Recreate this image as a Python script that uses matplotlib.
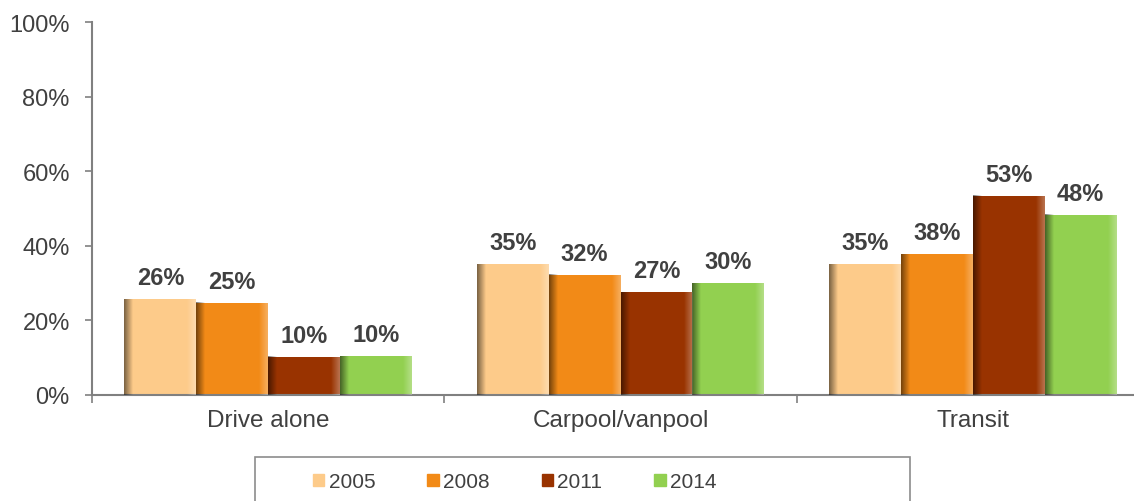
import numpy as np
import matplotlib
matplotlib.use('Agg')
import matplotlib.pyplot as plt
from matplotlib.patches import Rectangle, Patch

plt.rcParams['font.family'] = ['Liberation Sans', 'DejaVu Sans']

# --- dados ---
categorias = ['Drive alone', 'Carpool/vanpool', 'Transit']
anos = ['2005', '2008', '2011', '2014']
v2005 = [25.7, 35.1, 35.1]
v2008 = [24.7, 32.2, 37.8]
v2011 = [10.2, 27.6, 53.4]
v2014 = [10.4, 30.0, 48.3]
rotulos = [['26%', '35%', '35%'],
           ['25%', '32%', '38%'],
           ['10%', '27%', '53%'],
           ['10%', '30%', '48%']]
cores = ['#FDCB8A', '#F28A17', '#993300', '#92D050']

series = [v2005, v2008, v2011, v2014]
texto = '#404040'
eixo = '#808080'

fig = plt.figure(figsize=(11.34, 5.02), dpi=100)
ax = fig.add_axes([92 / 1134, 106 / 502, 1057 / 1134, 373 / 502])

x = np.arange(len(categorias))
w = 0.204

# gradiente das bordas (sombra esquerda, brilho direita)
n = 64
t = np.linspace(0, 1, n)
grad = np.zeros((1, n, 4))
sombra = np.clip(1 - t / 0.12, 0, 1) * 0.5
brilho = np.clip((t - 0.88) / 0.12, 0, 1) * 0.3
grad[0, :, 3] = sombra + brilho
grad[0, :, :3] = np.where((t > 0.5)[:, None], 1.0, 0.0)

for i, vals in enumerate(series):
    pos = x + (i - 1.5) * w
    bars = ax.bar(pos, vals, width=w, color=cores[i], zorder=2, label=anos[i])
    for b, lab in zip(bars, rotulos[i]):
        x0 = b.get_x()
        h = b.get_height()
        ax.imshow(grad, extent=(x0, x0 + w, 0, h), aspect='auto', zorder=3,
                  interpolation='bilinear')
        ax.annotate(lab, (x0 + w / 2, h), xytext=(0, 7), textcoords='offset points',
                    ha='center', va='bottom', fontsize=17, fontweight='bold', color=texto)

ax.set_xlim(-0.5, 2.5)
ax.set_ylim(0, 100)
ax.set_yticks(range(0, 101, 20))
ax.set_yticklabels([f'{v}%' for v in range(0, 101, 20)])
ax.set_xticks(x)
ax.set_xticklabels(categorias)
ax.set_xticks([-0.5, 0.5, 1.5, 2.5], minor=True)
ax.tick_params(axis='x', which='major', length=0, pad=10, labelsize=17.5, labelcolor=texto)
ax.tick_params(axis='x', which='minor', length=6, color=eixo, width=1.2)
ax.tick_params(axis='y', length=5, color=eixo, width=1.2, pad=11, labelsize=17, labelcolor=texto)

for s in ['top', 'right']:
    ax.spines[s].set_visible(False)
for s in ['left', 'bottom']:
    ax.spines[s].set_color(eixo)
    ax.spines[s].set_linewidth(1.5)

# legenda
handles = [Patch(color=c) for c in cores]
fig.legend(handles, anos, loc='center left', bbox_to_anchor=(313 / 1134, 1 - 483 / 502),
           ncol=4, frameon=False, fontsize=15, handlelength=0.55, handleheight=0.55,
           handletextpad=0.2, columnspacing=2.5, labelcolor=texto, borderaxespad=0,
           borderpad=0)
fig.patches.append(Rectangle((255 / 1134, -0.05), 655 / 1134, 0.05 + 44 / 502,
                             transform=fig.transFigure, fill=False,
                             edgecolor='#8c8c8c', linewidth=1.2))

fig.savefig('out.png', dpi=100)
